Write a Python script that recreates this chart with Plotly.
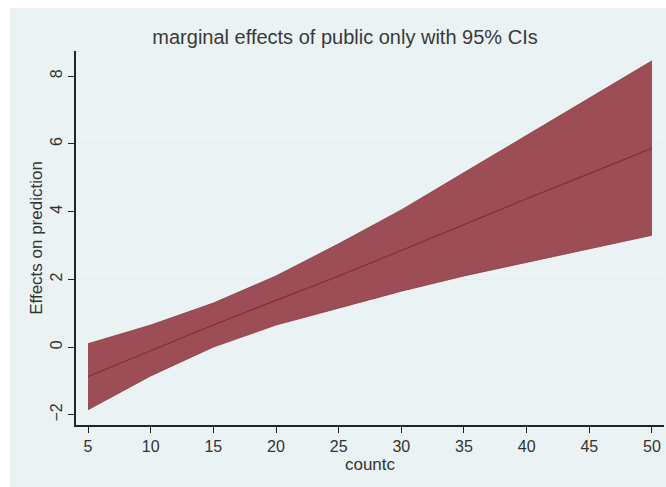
import plotly.graph_objects as go

countc = [5, 10, 15, 20, 25, 30, 35, 40, 45, 50]
effect = [-0.87, -0.10, 0.65, 1.38, 2.10, 2.85, 3.62, 4.38, 5.12, 5.87]
upper = [0.10, 0.65, 1.30, 2.10, 3.05, 4.05, 5.15, 6.25, 7.35, 8.45]
lower = [-1.85, -0.85, 0.00, 0.65, 1.15, 1.65, 2.10, 2.50, 2.90, 3.30]
xticks = [5, 10, 15, 20, 25, 30, 35, 40, 45, 50]
yticks = [-2, 0, 2, 4, 6, 8]

W, H = 666, 487
ml, mr, mt, mb = 76, 2, 51, 62
pw, ph = W - ml - mr, H - mt - mb

fig = go.Figure()
fig.add_trace(go.Scatter(x=countc, y=lower, mode="lines",
                         line=dict(color="#8a3d44", width=0.8), showlegend=False))
fig.add_trace(go.Scatter(x=countc, y=upper, mode="lines", fill="tonexty",
                         fillcolor="#9c4d55",
                         line=dict(color="#8a3d44", width=0.8), showlegend=False))
fig.add_trace(go.Scatter(x=countc, y=effect, mode="lines",
                         line=dict(color="#8c2a33", width=1.2), showlegend=False))
fig.add_hline(y=0, line=dict(color="#1c2540", width=1.5))

font = "Liberation Sans, Arial, sans-serif"
fig.update_layout(
    width=W, height=H,
    margin=dict(l=ml, r=mr, t=mt, b=mb),
    paper_bgcolor="white",
    plot_bgcolor="white",
    font=dict(family=font, color="#333333", size=17),
    title=dict(text="marginal effects of public only with 95% CIs",
               x=(345 - ml) / pw, xref="paper", xanchor="center",
               y=1 - 37 / H, yanchor="middle",
               font=dict(size=20, color="#3a3a3a")),
    xaxis=dict(range=[4.04, 50.96], tickvals=xticks, ticks="outside",
               ticklen=6, tickwidth=1.2, tickcolor="#222",
               showline=True, linecolor="#222", linewidth=1.5,
               showgrid=False, zeroline=False,
               title=dict(text="countc", standoff=0, font=dict(size=17)),
               tickfont=dict(size=16)),
    yaxis=dict(range=[-2.3, 8.74], tickvals=yticks, ticks="outside",
               ticklen=6, tickwidth=1.2, tickcolor="#222", tickangle=-90,
               showline=True, linecolor="#222", linewidth=1.5,
               showgrid=True, gridcolor="#e8eef0", gridwidth=1,
               zeroline=False,
               title=dict(text="Effects on prediction", standoff=1,
                          font=dict(size=17)),
               tickfont=dict(size=16)),
    shapes=[dict(type="rect", xref="paper", yref="paper", layer="below",
                 x0=(10 - ml) / pw, x1=(W - ml) / pw + 0.01,
                 y0=-(mb + 5) / ph, y1=1 + (mt - 8) / ph,
                 fillcolor="#eaf2f3", line=dict(width=0))],
)
fig.write_html("out.html")
